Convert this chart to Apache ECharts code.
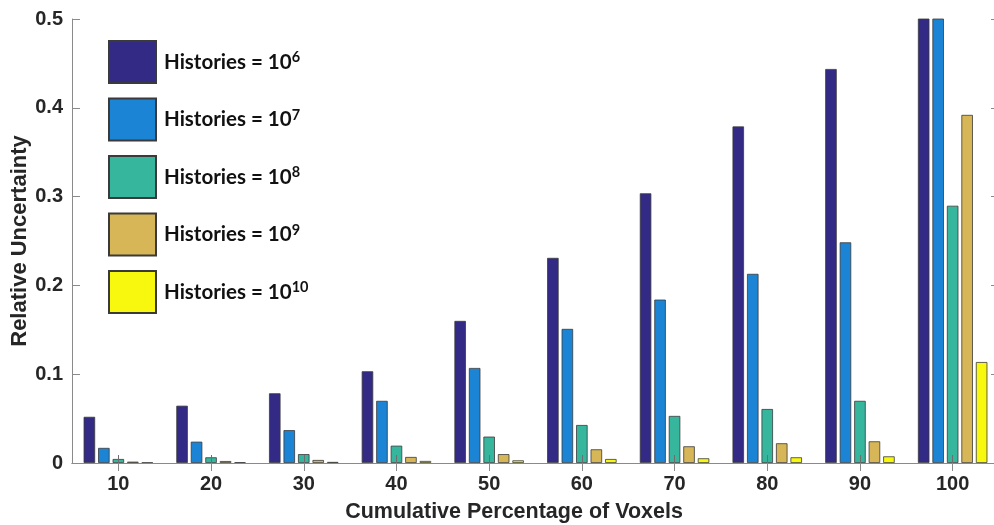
<!DOCTYPE html>
<html>
<head>
<meta charset="utf-8">
<script src="https://cdn.jsdelivr.net/npm/echarts@6/dist/echarts.min.js"></script>
<style>
  html, body { margin: 0; padding: 0; background: #fff; }
  #chart { width: 994px; height: 525px; }
</style>
</head>
<body>
<div id="chart"></div>
<script>
// Cumulative percentage of voxels (x categories)
const categories = ['10', '20', '30', '40', '50', '60', '70', '80', '90', '100'];

// Relative uncertainty per number of histories
const histExponents = [6, 7, 8, 9, 10];
const h1e6  = [0.052, 0.0645, 0.0785, 0.1033, 0.160, 0.231, 0.3037, 0.379, 0.4437, 0.63];
const h1e7  = [0.017, 0.024, 0.037, 0.070, 0.107, 0.151, 0.184, 0.213, 0.2485, 0.56];
const h1e8  = [0.0045, 0.0064, 0.010, 0.0195, 0.0297, 0.0428, 0.053, 0.0608, 0.070, 0.2897];
const h1e9  = [0.0015, 0.0022, 0.0034, 0.0068, 0.010, 0.0154, 0.0188, 0.0222, 0.0244, 0.392];
const h1e10 = [0.0005, 0.0008, 0.0012, 0.0023, 0.003, 0.0045, 0.0053, 0.0064, 0.0075, 0.1137];

const yTicks = [0, 0.1, 0.2, 0.3, 0.4, 0.5];

const seriesData = [h1e6, h1e7, h1e8, h1e9, h1e10];
const colors = ['#332a86', '#1b84d4', '#37b69e', '#d6b656', '#f8f80f'];

const axisGray = '#8a8a8a';
const textDark = '#262626';
const arialBold = 'Liberation Sans, Arial, sans-serif';
const tickFont = { fontFamily: arialBold, fontWeight: 'bold', fontSize: 20, color: textDark };

const names = histExponents.map(e => 'Histories = 10^' + e);

const chart = echarts.init(document.getElementById('chart'), null, { renderer: 'canvas' });

chart.setOption({
  animation: false,
  backgroundColor: '#ffffff',
  color: colors,
  // the plot box runs a few pixels past the right edge of the canvas
  grid: { left: 72, top: 19, width: 927, height: 444, containLabel: false, outerBoundsMode: 'none' },
  title: {
    text: 'Cumulative Percentage of Voxels',
    left: 509,
    top: 496,
    textAlign: 'center',
    textStyle: { fontFamily: arialBold, fontWeight: 'bold', fontSize: 21.5, color: textDark }
  },
  legend: {
    orient: 'vertical',
    left: 108,
    top: 40,
    padding: 0,
    itemWidth: 47,
    itemHeight: 42,
    itemGap: 13.5,
    icon: 'rect',
    data: names,
    formatter: function (name) {
      const exp = name.split('^')[1];
      return '{base|Histories = 10}{sup|' + exp + '}';
    },
    textStyle: {
      padding: [0, 0, 0, 3],
      rich: {
        base: { fontFamily: 'Lato, sans-serif', fontWeight: 'bold', fontSize: 20.5, color: '#111', lineHeight: 24 },
        sup: { fontFamily: 'Lato, sans-serif', fontWeight: 'bold', fontSize: 14.5, color: '#111', lineHeight: 24, padding: [0, 0, 9, 0] }
      }
    }
  },
  xAxis: [
    {
      type: 'category',
      data: categories,
      position: 'bottom',
      z: 3,
      axisLine: { show: true, lineStyle: { color: axisGray, width: 1 } },
      axisTick: { show: true, inside: true, length: 8, alignWithLabel: true, lineStyle: { color: '#6e6e6e' } },
      axisLabel: Object.assign({ margin: 11 }, tickFont),
      splitLine: { show: false }
    },
    {
      type: 'category',
      data: categories,
      position: 'top',
      z: 3,
      axisLine: { show: true, lineStyle: { color: axisGray, width: 1 } },
      axisTick: { show: true, inside: true, length: 8, alignWithLabel: true, lineStyle: { color: axisGray } },
      axisLabel: { show: false },
      splitLine: { show: false }
    }
  ],
  yAxis: [
    {
      type: 'value',
      min: yTicks[0],
      max: yTicks[yTicks.length - 1],
      interval: 0.1,
      position: 'left',
      name: 'Relative Uncertainty',
      nameLocation: 'middle',
      nameGap: 41,
      nameMoveOverlap: false,
      nameTextStyle: { fontFamily: arialBold, fontWeight: 'bold', fontSize: 22, color: textDark },
      axisLine: { show: true, lineStyle: { color: axisGray, width: 1 } },
      axisTick: { show: true, inside: true, length: 8, lineStyle: { color: axisGray } },
      axisLabel: Object.assign({
        margin: 9,
        formatter: v => (v === 0 ? '0' : v.toFixed(1))
      }, tickFont),
      splitLine: { show: false }
    },
    {
      type: 'value',
      min: yTicks[0],
      max: yTicks[yTicks.length - 1],
      interval: 0.1,
      position: 'right',
      axisLine: { show: true, lineStyle: { color: axisGray, width: 1 } },
      axisTick: { show: true, inside: true, length: 8, lineStyle: { color: axisGray } },
      axisLabel: { show: false },
      splitLine: { show: false }
    }
  ],
  series: seriesData.map((d, i) => ({
    name: names[i],
    type: 'bar',
    data: d,
    xAxisIndex: 0,
    yAxisIndex: 0,
    barWidth: 11.5,
    barGap: '26%',
    clip: true,
    itemStyle: { color: colors[i], borderColor: '#3a3a3a', borderWidth: 0.8 }
  }))
});
</script>
</body>
</html>
